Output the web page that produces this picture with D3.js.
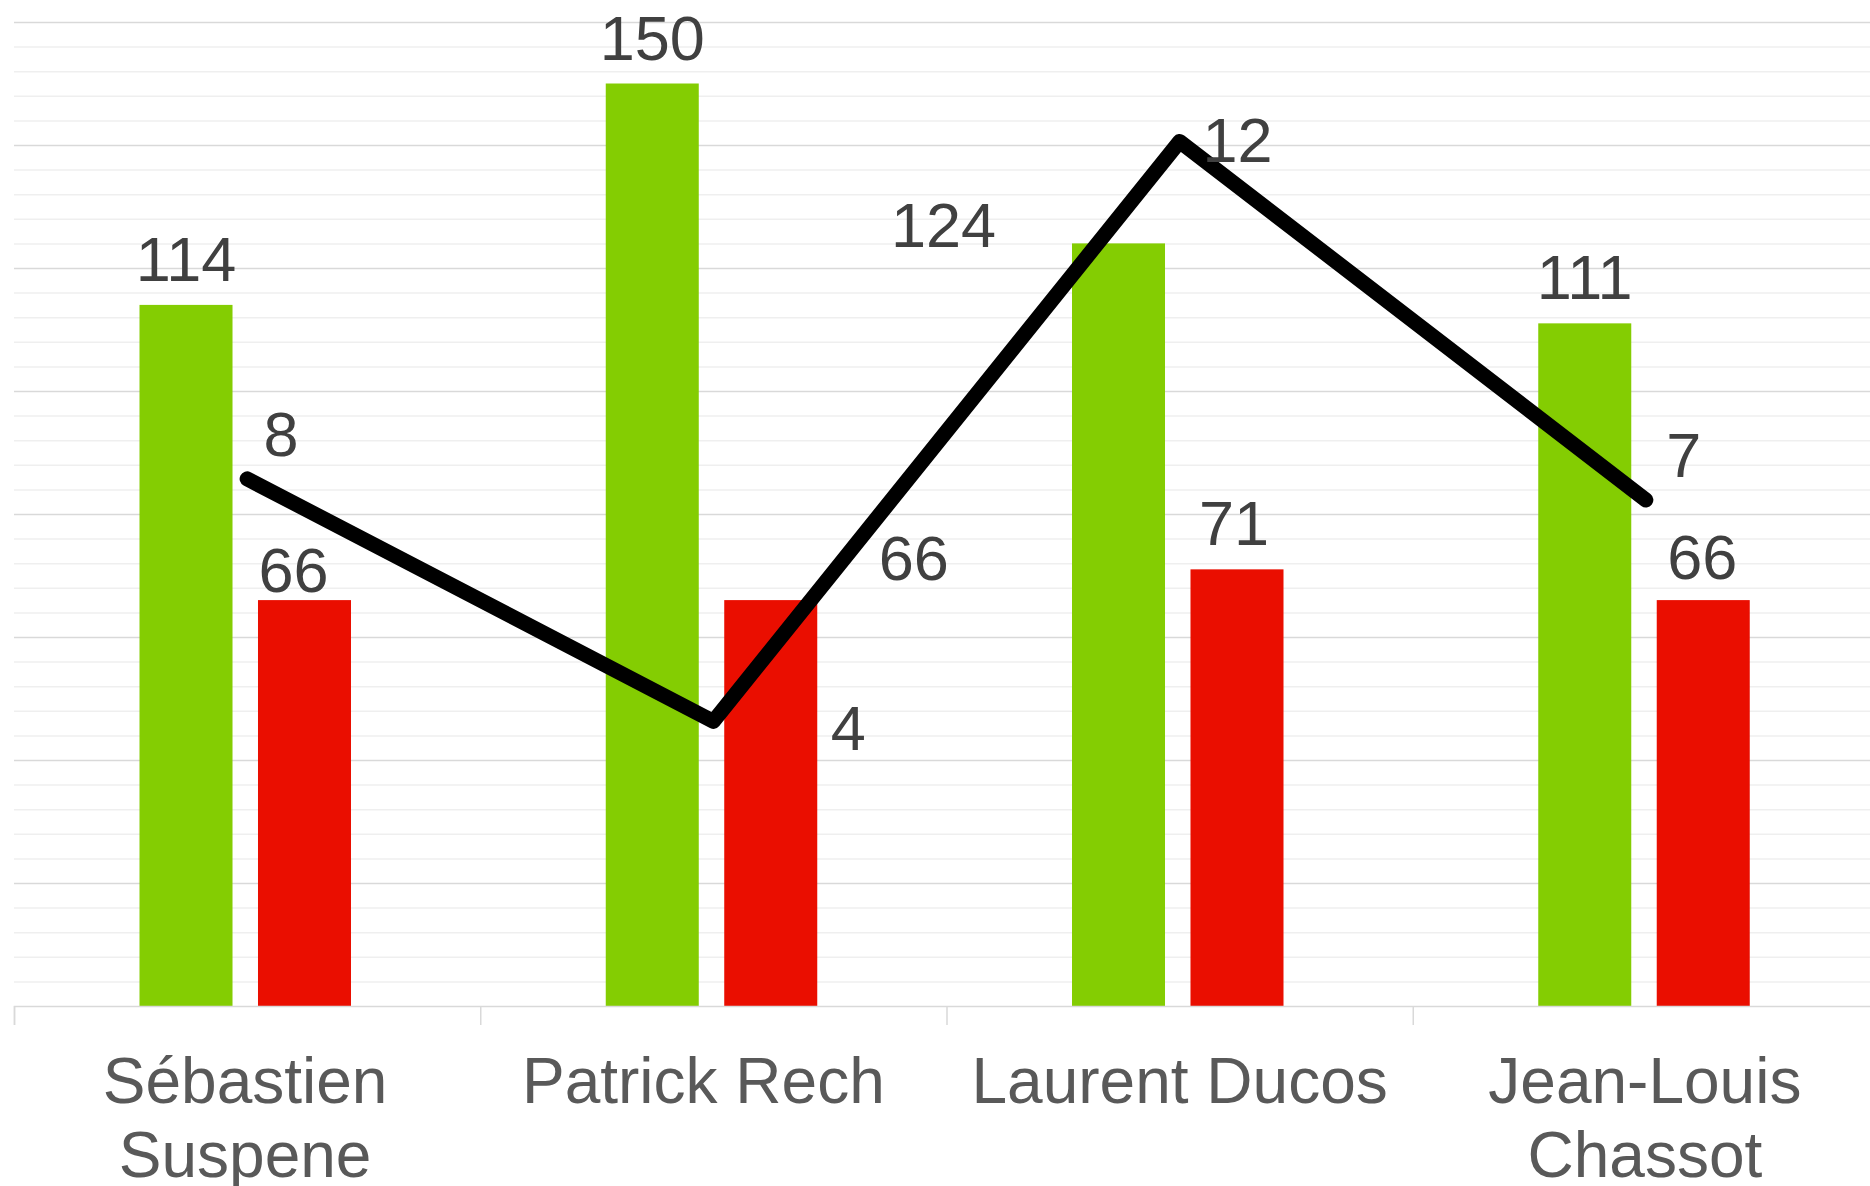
<!DOCTYPE html>
<html>
<head>
<meta charset="utf-8">
<script src="https://cdn.jsdelivr.net/npm/d3@7"></script>
<style>
  html, body { margin: 0; padding: 0; background: #fff; }
  svg { display: block; }
  text { font-family: "Liberation Sans", Arial, sans-serif; }
</style>
</head>
<body>
<svg id="chart" width="1870" height="1186"></svg>
<script>
// ---- data ----
const categories = ["Sébastien\nSuspene", "Patrick Rech", "Laurent Ducos", "Jean-Louis\nChassot"];
const greenValues = [114, 150, 124, 111];
const redValues = [66, 66, 71, 66];
const lineValues = [7.5, 4.05, 12.3, 7.2];   // secondary axis (labels rounded)
const primaryMax = 160;
const secondaryMax = 14;

// ---- label nudges (layout) ----
const greenNudge = [[0, 0], [0, 0], [-175, 28], [0, 0]];
const redNudge = [[-11, 16], [143, 4], [-3, 0], [-1, 3]];
const lineNudge = [[34, -23], [135, 29], [58, 21], [38, -23]];
const catNudge = [-2, -10, 0, -1];

const W = 1870, H = 1186;
const plotLeft = 14, plotRight = 1879, plotTop = 22, plotBottom = 1006;
const svg = d3.select("#chart");

const x0 = d3.scaleBand().domain(d3.range(categories.length)).range([plotLeft, plotRight]).paddingInner(0).paddingOuter(0);
const step = x0.bandwidth();
const x1 = d3.scaleBand().domain(["g", "r"]).range([125.5, 337]).paddingInner(0.215).paddingOuter(0);
const y = d3.scaleLinear().domain([0, primaryMax]).range([plotBottom, plotTop]);
const y2 = d3.scaleLinear().domain([0, secondaryMax]).range([plotBottom, plotTop]);

// minor gridlines
svg.append("g")
  .attr("transform", `translate(${plotLeft},0)`)
  .call(d3.axisLeft(y).tickValues(d3.range(4, primaryMax + 1, 4).filter(v => v % 20 !== 0)).tickSize(-(W - plotLeft)).tickFormat(""))
  .call(g => g.select(".domain").remove())
  .call(g => g.selectAll("line").attr("stroke", "#efefef").attr("stroke-width", 1.5));

// major gridlines
svg.append("g")
  .attr("transform", `translate(${plotLeft},0)`)
  .call(d3.axisLeft(y).tickValues(d3.range(20, primaryMax + 1, 20)).tickSize(-(W - plotLeft)).tickFormat(""))
  .call(g => g.select(".domain").remove())
  .call(g => g.selectAll("line").attr("stroke", "#d9d9d9").attr("stroke-width", 1.5));

// bars
const groups = svg.append("g").selectAll("g").data(categories).join("g")
  .attr("transform", (d, i) => `translate(${x0(i)},0)`);

groups.append("rect")
  .attr("x", x1("g")).attr("width", x1.bandwidth())
  .attr("y", (d, i) => y(greenValues[i])).attr("height", (d, i) => y(0) - y(greenValues[i]))
  .attr("fill", "#84cd02");

groups.append("rect")
  .attr("x", x1("r")).attr("width", x1.bandwidth())
  .attr("y", (d, i) => y(redValues[i])).attr("height", (d, i) => y(0) - y(redValues[i]))
  .attr("fill", "#ea0e00");

// x axis
const xAxis = d3.scaleLinear().domain([0, categories.length]).range([plotLeft, plotRight]);
svg.append("g")
  .attr("transform", `translate(0,${plotBottom})`)
  .call(d3.axisBottom(xAxis).ticks(categories.length).tickSize(19).tickFormat(""))
  .call(g => g.select(".domain").attr("stroke", "#d9d9d9").attr("stroke-width", 1.5))
  .call(g => g.selectAll(".tick line").attr("stroke", "#d9d9d9").attr("stroke-width", 1.5));

// category labels
const catLabels = svg.append("g").selectAll("text").data(categories).join("text")
  .attr("x", (d, i) => x0(i) + step / 2 + catNudge[i])
  .attr("y", 1103)
  .attr("text-anchor", "middle")
  .attr("font-size", 64)
  .attr("fill", "#595959");
catLabels.each(function (d) {
  const t = d3.select(this);
  d.split("\n").forEach((line, k) => {
    t.append("tspan").attr("x", t.attr("x")).attr("dy", k === 0 ? 0 : 74).text(line);
  });
});

// line
const lineGen = d3.line()
  .x((d, i) => x0(i) + step / 2)
  .y(d => y2(d));
svg.append("path")
  .datum(lineValues)
  .attr("d", lineGen)
  .attr("fill", "none")
  .attr("stroke", "#000")
  .attr("stroke-width", 15)
  .attr("stroke-linejoin", "round")
  .attr("stroke-linecap", "round");

// data labels
const lbl = svg.append("g").attr("font-size", 63).attr("fill", "#404040").attr("text-anchor", "middle");

lbl.selectAll("text.g").data(greenValues).join("text").attr("class", "g")
  .attr("x", (d, i) => x0(i) + x1("g") + x1.bandwidth() / 2 + greenNudge[i][0])
  .attr("y", (d, i) => y(d) - 24 + greenNudge[i][1])
  .text(d => d);

lbl.selectAll("text.r").data(redValues).join("text").attr("class", "r")
  .attr("x", (d, i) => x0(i) + x1("r") + x1.bandwidth() / 2 + redNudge[i][0])
  .attr("y", (d, i) => y(d) - 24 + redNudge[i][1])
  .text(d => d);

lbl.selectAll("text.l").data(lineValues).join("text").attr("class", "l")
  .attr("x", (d, i) => x0(i) + step / 2 + lineNudge[i][0])
  .attr("y", (d, i) => y2(d) + lineNudge[i][1])
  .text(d => Math.round(d));
</script>
</body>
</html>
